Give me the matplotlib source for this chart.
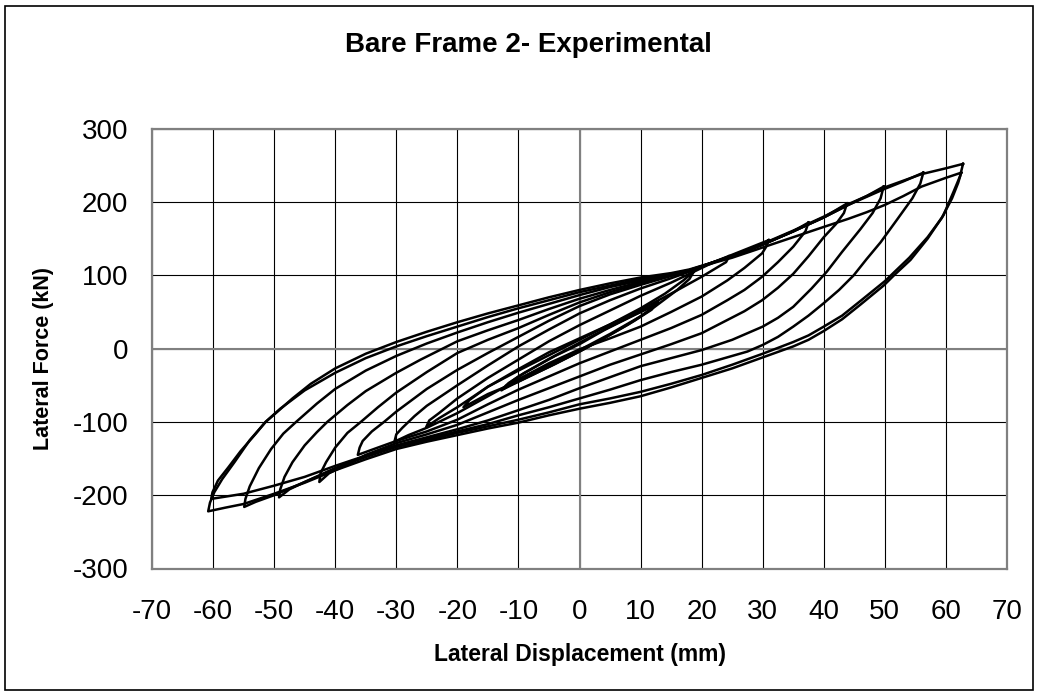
import matplotlib
matplotlib.use("Agg")
import matplotlib.pyplot as plt
from matplotlib.patches import Rectangle

plt.rcParams["font.family"] = ["Liberation Sans", "DejaVu Sans"]
plt.rcParams["axes.unicode_minus"] = False

# Axis ticks
x_ticks = list(range(-70, 71, 10))
y_ticks = list(range(-300, 301, 100))

# Recorded hysteresis cycles: lateral displacement (mm) and lateral force (kN)
disp_c1a = [12.8, 12.0, 10.0, 5.0, 0.0, -5.0, -10.0, -12.8, -12.0, -10.0, -5.0, 0.0, 5.0, 10.0, 12.0, 12.8]
force_c1a = [64, 56, 44, 20, -2, -22, -42, -57, -50, -38, -14, 8, 30, 50, 59, 64]

disp_c1b = [12.5, 11.8, 9.0, 4.0, 0.0, -4.0, -9.0, -12.4, -11.6, -9.0, -4.0, 0.0, 4.0, 9.0, 11.8, 12.5]
force_c1b = [62, 53, 38, 14, -4, -21, -41, -55, -47, -33, -10, 6, 25, 46, 57, 62]

disp_c2 = [18.8, 18.0, 16.0, 12.0, 8.0, 4.0, 0.0, -5.0, -10.0, -15.0, -19.0,
           -18.0, -15.0, -10.0, -5.0, 0.0, 5.0, 10.0, 14.0, 17.0, 18.8]
force_c2 = [106, 95, 80, 55, 33, 14, -4, -25, -45, -62, -80,
            -70, -52, -30, -9, 12, 33, 55, 75, 93, 106]

disp_c3 = [24.5, 24.0, 22.0, 20.0, 15.0, 10.0, 5.0, 0.0, -5.0, -10.0, -15.0, -20.0, -23.0, -25.1,
           -24.6, -23.0, -20.0, -15.0, -10.0, -5.0, 0.0, 5.0, 10.0, 15.0, 18.0, 21.0, 24.5]
force_c3 = [126, 118, 108, 98, 75, 53, 33, 14, -5, -28, -52, -80, -95, -107,
            -98, -88, -68, -40, -15, 10, 32, 52, 72, 90, 102, 114, 126]

disp_c4 = [31.0, 30.5, 29.9, 27.0, 24.2, 20.0, 15.0, 10.0, 5.0, 0.0, -5.0, -10.0, -15.0, -20.0, -25.0, -28.0, -30.3,
           -30.0, -29.0, -27.0, -25.0, -20.0, -15.0, -10.0, -5.0, 0.0, 5.0, 10.0, 15.0, 18.0, 21.0, 25.0, 28.0, 31.0]
force_c4 = [148, 138, 130, 110, 93, 71, 50, 30, 14, -1, -20, -42, -65, -88, -108, -118, -127,
            -117, -108, -92, -78, -50, -23, 3, 26, 48, 66, 82, 96, 105, 115, 128, 138, 148]

disp_c5 = [37.5, 37.0, 35.0, 32.5, 29.9, 27.0, 24.2, 20.0, 15.0, 10.0, 5.0, 0.0, -5.0, -10.0, -15.0, -20.0,
           -25.0, -30.0, -33.0, -36.3,
           -36.0, -35.5, -34.0, -32.0, -30.0, -25.0, -20.0, -15.0, -10.0, -5.0, 0.0, 5.0, 10.0, 15.0, 18.0,
           22.0, 25.0, 30.0, 35.0, 37.5]
force_c5 = [172, 160, 139, 118, 98, 80, 66, 46, 28, 12, -4, -20, -38, -56, -76, -97,
            -113, -126, -135, -145,
            -135, -126, -113, -100, -86, -55, -29, -6, 16, 38, 58, 74, 87, 99, 106,
            118, 126, 142, 160, 172]

disp_c6 = [43.8, 43.3, 42.0, 40.0, 37.5, 35.0, 32.5, 29.9, 27.0, 24.2, 20.0, 15.0, 10.0, 5.0, 0.0, -5.0,
           -10.0, -15.0, -20.0, -25.0, -30.0, -35.0, -38.0, -41.0, -42.6,
           -42.4, -41.5, -40.0, -38.0, -35.8, -33.0, -30.0, -25.0, -20.0, -15.0, -10.0, -5.0, 0.0, 5.0,
           10.0, 15.0, 18.0, 22.0, 25.0, 30.0, 35.0, 40.0, 43.8]
force_c6 = [198, 185, 170, 152, 126, 102, 83, 66, 51, 39, 21, 6, -8, -22, -38, -54,
            -70, -87, -104, -117, -129, -145, -158, -170, -182,
            -170, -155, -135, -115, -100, -80, -60, -32, -6, 12, 28, 46, 63, 77,
            89, 100, 106, 118, 126, 142, 160, 179, 198]

disp_c7 = [49.8, 49.3, 48.0, 46.0, 43.0, 40.5, 38.0, 35.0, 32.5, 30.0, 25.0, 20.0, 15.0, 10.0, 5.0, 0.0,
           -5.0, -10.0, -15.0, -20.0, -25.0, -30.0, -35.0, -40.0, -45.0, -47.5, -49.2,
           -49.0, -48.3, -47.0, -45.0, -43.0, -41.3, -38.0, -35.0, -30.0, -26.0, -20.0, -15.0, -10.0, -5.0,
           0.0, 5.0, 10.0, 15.0, 18.0, 22.0, 25.0, 30.0, 35.0, 40.0, 44.0, 47.0, 49.8]
force_c7 = [221, 205, 185, 163, 132, 105, 82, 57, 42, 30, 12, -2, -13, -24, -39, -54,
            -70, -84, -98, -110, -121, -132, -146, -164, -182, -192, -203,
            -192, -175, -155, -132, -114, -100, -77, -58, -33, -15, 10, 25, 39, 54,
            68, 80, 91, 101, 107, 118, 126, 142, 160, 179, 196, 208, 221]

disp_c8 = [56.3, 55.8, 54.5, 52.0, 49.3, 47.0, 44.9, 42.5, 40.0, 37.5, 35.0, 32.5, 30.0, 27.5, 25.0, 20.0,
           15.0, 10.0, 5.0, 0.0, -5.0, -10.0, -15.0, -20.0, -25.0, -30.0, -35.0, -40.0, -45.0, -50.0,
           -53.0, -54.9,
           -54.7, -54.0, -52.5, -50.5, -48.5, -46.4, -43.0, -40.0, -35.0, -30.0, -25.0, -20.0, -15.0,
           -10.0, -5.0, 0.0, 5.0, 10.0, 15.0, 18.0, 22.0, 25.0, 30.0, 35.0, 40.0, 44.0, 47.0, 50.0,
           53.0, 56.3]
force_c8 = [240, 225, 205, 176, 145, 122, 100, 80, 62, 45, 30, 16, 5, -4, -10, -22,
            -32, -43, -56, -68, -80, -91, -103, -113, -123, -134, -148, -163, -182, -200,
            -209, -216,
            -205, -188, -163, -137, -116, -100, -75, -55, -30, -10, 7, 22, 36,
            49, 61, 73, 84, 93, 101, 107, 118, 126, 142, 160, 179, 196, 207, 218,
            228, 240]

disp_c9b = [62.5, 62.0, 61.0, 59.3, 57.0, 54.0, 50.0, 46.0, 43.0, 40.0, 37.5, 35.0, 30.0, 25.0, 20.0,
            15.0, 10.0, 5.0, 0.0, -5.0, -10.0, -15.0, -20.0, -25.0, -30.0, -35.0, -40.0, -45.0, -50.0,
            -55.0, -58.0, -60.3,
            -60.1, -59.2, -57.5, -55.5, -53.0, -51.4, -49.0, -45.0, -40.0, -35.0, -30.0, -25.0, -20.0,
            -15.0, -10.0, -5.0, 0.0, 5.0, 10.0, 15.0, 18.0, 22.0, 25.0, 30.0, 35.0, 40.0, 44.0, 47.0,
            50.0, 53.0, 56.0, 60.0, 62.5]
force_c9b = [240, 226, 205, 178, 152, 124, 92, 65, 45, 30, 18, 9, -7, -22, -36,
             -48, -59, -68, -76, -87, -97, -106, -115, -125, -134, -146, -160, -175, -187,
             -198, -202, -205,
             -196, -180, -162, -140, -116, -100, -82, -57, -33, -13, 3, 17, 30,
             43, 55, 66, 77, 86, 95, 102, 107, 117, 124, 138, 152, 166, 177, 186,
             196, 208, 221, 233, 240]

disp_c9a = [62.8, 62.3, 61.3, 59.6, 57.0, 54.2, 51.5, 49.8, 46.0, 43.0, 40.0, 37.5, 35.0, 30.0, 25.0,
            20.0, 15.0, 10.0, 5.0, 0.0, -5.0, -10.0, -15.0, -20.0, -25.0, -30.0, -35.0, -40.0, -45.0,
            -50.0, -55.0, -58.0, -60.8,
            -60.5, -59.8, -58.5, -56.5, -54.0, -51.4, -50.0, -47.0, -44.0, -40.0, -35.0, -30.0, -25.0,
            -20.0, -15.0, -10.0, -5.0, 0.0, 5.0, 10.0, 15.0, 18.0, 22.0, 25.0, 30.0, 35.0, 40.0, 44.0,
            47.0, 50.0, 53.0, 56.0, 60.0, 62.8]
force_c9a = [252, 235, 215, 182, 150, 121, 100, 86, 60, 40, 24, 12, 3, -12, -27,
             -40, -53, -65, -74, -82, -91, -101, -109, -118, -127, -137, -151, -166, -183,
             -198, -212, -217, -222,
             -210, -196, -178, -155, -125, -100, -90, -68, -48, -27, -7, 9, 23,
             36, 48, 59, 70, 80, 89, 97, 103, 108, 118, 127, 143, 161, 180, 197,
             208, 220, 229, 238, 246, 252]

cycles = [
    (disp_c1a, force_c1a), (disp_c1b, force_c1b), (disp_c2, force_c2),
    (disp_c3, force_c3), (disp_c4, force_c4), (disp_c5, force_c5),
    (disp_c6, force_c6), (disp_c7, force_c7), (disp_c8, force_c8),
    (disp_c9b, force_c9b), (disp_c9a, force_c9a),
]

W, H = 1038, 694
fig = plt.figure(figsize=(W / 100, H / 100), dpi=100)

# chart area border
fig.patches.append(Rectangle((5 / W, 4 / H), 1028 / W, 684 / H, transform=fig.transFigure,
                             fill=False, edgecolor="black", linewidth=1.2))

left, right, top, bottom = 152, 1007, 128.7, 568.5
ax = fig.add_axes([left / W, 1 - bottom / H, (right - left) / W, (bottom - top) / H])

ax.set_xlim(-70, 70)
ax.set_ylim(-300, 300)
ax.set_xticks(x_ticks)
ax.set_yticks(y_ticks)
ax.grid(True, color="black", linewidth=0.8, zorder=1)
ax.set_axisbelow(True)
ax.axhline(0, color="#808080", linewidth=1.5, zorder=1.5)
ax.axvline(0, color="#808080", linewidth=1.5, zorder=1.5)

for s in ax.spines.values():
    s.set_color("#808080")
    s.set_linewidth(1.6)

ax.tick_params(axis="both", length=0, labelsize=20, colors="black")
ax.tick_params(axis="x", pad=22)
ax.tick_params(axis="y", pad=17)

for d, f in cycles:
    ax.plot(d, f, color="black", linewidth=1.8, solid_joinstyle="round", zorder=3)

ax.set_xlabel("Lateral Displacement (mm)", fontsize=16.5, fontweight="bold")
ax.xaxis.label.set_va("center")
ax.xaxis.set_label_coords(0.5, (bottom - 655) / (bottom - top))
ax.set_ylabel("Lateral Force (kN)", fontsize=15.5, fontweight="bold")
ax.yaxis.label.set_va("center")
ax.yaxis.set_label_coords((44 - left) / (right - left), (bottom - 358) / (bottom - top))

fig.text(528 / W, 1 - 45.5 / H, "Bare Frame 2- Experimental", fontsize=20, fontweight="bold",
         ha="center", va="center")

fig.savefig("out.png", dpi=100)
